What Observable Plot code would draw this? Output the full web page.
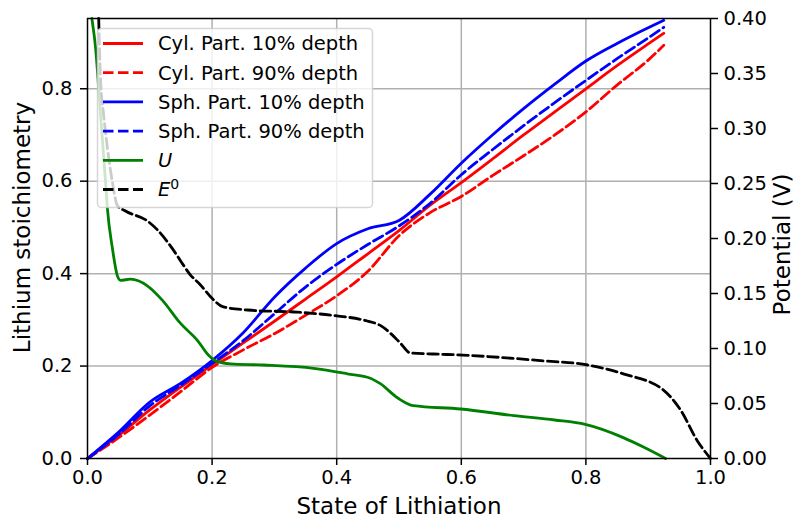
<!DOCTYPE html>
<html><head><meta charset="utf-8">
<script src="https://cdn.jsdelivr.net/npm/d3@7"></script>
<script src="https://cdn.jsdelivr.net/npm/@observablehq/plot@0.6"></script>
<style>body{margin:0;background:#fff;} #chart{width:795px;height:519px;}</style>
</head><body><div id="chart"></div>
<script>
// ---- data ----
const xLabel = "State of Lithiation";
const yLabel = "Lithium stoichiometry";
const vLabel = "Potential (V)";
const xTicks = [0, 0.2, 0.4, 0.6, 0.8, 1.0];
const yTicks = [0, 0.2, 0.4, 0.6, 0.8];
const vTicks = [0, 0.05, 0.10, 0.15, 0.20, 0.25, 0.30, 0.35, 0.40];
const yMax = 0.952;
const vMax = 0.40;

const sol = [0,0.05,0.1,0.15,0.2,0.25,0.3,0.35,0.4,0.45,0.5,0.55,0.6,0.65,0.7,0.75,0.8,0.85,0.9,0.925];
const cyl10 = [0,0.050,0.105,0.155,0.203,0.250,0.297,0.345,0.393,0.443,0.493,0.548,0.597,0.648,0.700,0.750,0.800,0.850,0.897,0.920];
const cyl90 = [0,0.045,0.094,0.145,0.197,0.235,0.270,0.310,0.352,0.405,0.482,0.532,0.567,0.612,0.655,0.700,0.750,0.808,0.862,0.894];
const sph10 = [0,0.057,0.122,0.163,0.212,0.272,0.349,0.412,0.465,0.497,0.515,0.572,0.639,0.700,0.757,0.810,0.860,0.898,0.932,0.948];
const sph90 = [0,0.052,0.114,0.159,0.206,0.255,0.313,0.371,0.420,0.463,0.503,0.552,0.614,0.668,0.720,0.770,0.818,0.865,0.910,0.933];

const uX = [0.007,0.013,0.021,0.029,0.032,0.040,0.048,0.053,0.069,0.096,0.120,0.149,0.177,0.194,0.205,0.230,0.283,0.363,0.417,0.454,0.470,0.498,0.523,0.599,0.684,0.750,0.799,0.860,0.894,0.928];
const uV = [0.400,0.373,0.312,0.251,0.227,0.191,0.166,0.162,0.163,0.157,0.144,0.123,0.107,0.094,0.089,0.086,0.085,0.082,0.077,0.073,0.068,0.055,0.048,0.045,0.039,0.035,0.031,0.019,0.010,0.000];

const e0X = [0.018,0.021,0.026,0.032,0.040,0.048,0.061,0.096,0.112,0.136,0.149,0.165,0.181,0.201,0.217,0.257,0.337,0.395,0.449,0.470,0.486,0.502,0.518,0.555,0.602,0.727,0.803,0.860,0.925,0.952,0.979,1.000];
const e0V = [0.400,0.344,0.312,0.282,0.251,0.230,0.225,0.216,0.208,0.191,0.180,0.167,0.158,0.145,0.138,0.135,0.133,0.130,0.125,0.121,0.114,0.105,0.096,0.095,0.094,0.089,0.085,0.077,0.062,0.044,0.016,0.000];

const legendLabels = ["Cyl. Part. 10% depth","Cyl. Part. 90% depth","Sph. Part. 10% depth","Sph. Part. 90% depth","U","E"];
const legendColors = ["#ff0000","#ff0000","#0000ff","#0000ff","#008000","#000000"];
const legendDashed = [false,true,false,true,false,true];

// ---- build ----
const k = yMax / vMax;
const rows = (xs, ys) => xs.map((x, i) => ({x, y: ys[i]}));
const lw = 2.8, dash = "10.5,4.5";
const font = "DejaVu Sans";
const tickFs = 19.5, labelFs = 23;
const sw = 1.5;

const plot = Plot.plot({
  width: 795, height: 519,
  marginLeft: 87, marginRight: 85, marginTop: 18, marginBottom: 61,
  style: {fontFamily: font, fontSize: tickFs + "px", color: "black", background: "white", overflow: "visible"},
  x: {domain: [0, 1]},
  y: {domain: [0, yMax]},
  marks: [
    Plot.gridX(xTicks.slice(1, -1), {stroke: "#b0b0b0", strokeOpacity: 1, strokeWidth: sw}),
    Plot.gridY(yTicks.slice(1), {stroke: "#b0b0b0", strokeOpacity: 1, strokeWidth: sw}),
    Plot.line(rows(sol, cyl10), {x: "x", y: "y", stroke: legendColors[0], strokeWidth: lw, curve: "monotone-x"}),
    Plot.line(rows(sol, cyl90), {x: "x", y: "y", stroke: legendColors[1], strokeWidth: lw, strokeDasharray: dash, curve: "monotone-x"}),
    Plot.line(rows(sol, sph10), {x: "x", y: "y", stroke: legendColors[2], strokeWidth: lw, curve: "monotone-x"}),
    Plot.line(rows(sol, sph90), {x: "x", y: "y", stroke: legendColors[3], strokeWidth: lw, strokeDasharray: dash, curve: "monotone-x"}),
    Plot.line(rows(uX, uV), {x: "x", y: d => d.y * k, stroke: legendColors[4], strokeWidth: lw, curve: "monotone-x"}),
    Plot.line(rows(e0X, e0V), {x: "x", y: d => d.y * k, stroke: legendColors[5], strokeWidth: lw, strokeDasharray: dash, curve: "monotone-x"}),
    Plot.frame({stroke: "black", strokeWidth: sw}),
    Plot.axisX(xTicks, {tickSize: 7, tickPadding: 5, strokeWidth: sw, fontSize: tickFs, tickFormat: d3.format(".1f"), label: null}),
    Plot.axisY(yTicks, {anchor: "left", tickSize: 7, tickPadding: 8, strokeWidth: sw, fontSize: tickFs, tickFormat: d3.format(".1f"), label: null}),
    Plot.axisY(vTicks.map(v => v * k), {anchor: "right", tickSize: 7, tickPadding: 6, strokeWidth: sw, fontSize: tickFs, tickFormat: d => (d / k).toFixed(2), label: null}),
    Plot.text([xLabel], {text: d => d, frameAnchor: "bottom", dy: 48, fontSize: labelFs, lineAnchor: "middle", textAnchor: "middle"}),
    Plot.text([yLabel], {text: d => d, frameAnchor: "left", dx: -64.5, dy: -11, rotate: -90, fontSize: labelFs, lineAnchor: "middle", textAnchor: "middle"}),
    Plot.text([vLabel], {text: d => d, frameAnchor: "right", dx: 72, dy: 6, rotate: -90, fontSize: labelFs, lineAnchor: "middle", textAnchor: "middle"})
  ]
});
document.getElementById("chart").appendChild(plot);

// legend
const svg = d3.select(plot);
const g = svg.append("g").attr("font-family", font).attr("font-size", tickFs).attr("text-anchor", "start");
g.append("rect").attr("x", 97.5).attr("y", 28.5).attr("width", 275).attr("height", 179).attr("rx", 4)
  .attr("fill", "white").attr("fill-opacity", 0.8).attr("stroke", "#cccccc").attr("stroke-opacity", 0.8).attr("stroke-width", sw);
legendLabels.forEach((lab, i) => {
  const y = 43.5 + i * 29.2;
  g.append("line").attr("x1", 103).attr("x2", 143).attr("y1", y).attr("y2", y)
    .attr("stroke", legendColors[i]).attr("stroke-width", lw)
    .attr("stroke-dasharray", legendDashed[i] ? dash : null);
  const t = g.append("text").attr("x", 158).attr("y", y).attr("dy", "0.35em").attr("fill", "black").attr("text-anchor", "start");
  if (i < 4) t.text(lab);
  else {
    t.append("tspan").attr("font-style", "italic").text(lab);
    if (i === 5) t.append("tspan").attr("font-size", 14).attr("dy", "-0.55em").text("0");
  }
});
</script>
</body></html>
